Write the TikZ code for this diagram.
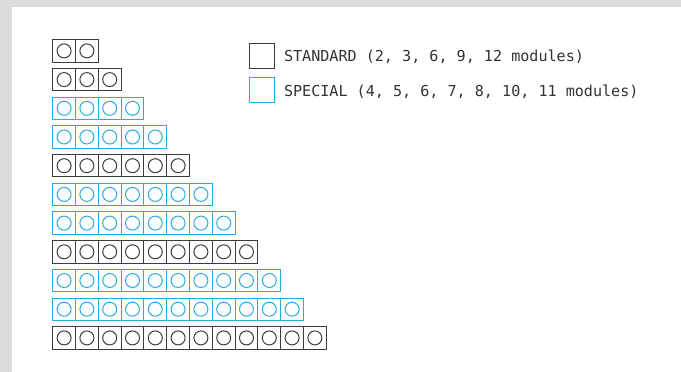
\documentclass[tikz,border=0pt]{standalone}
\usepackage{fontspec}
\setmonofont{DejaVu Sans Mono}
\usetikzlibrary{positioning}

\definecolor{stdgray}{HTML}{3C3C3C}
\definecolor{specblue}{HTML}{29ABE2}
\definecolor{framegray}{HTML}{DCDCDC}
\definecolor{textgray}{HTML}{333333}

\begin{document}
\begin{tikzpicture}[
    x=1pt, y=-1pt,
    module/.style={draw, line width=1pt, minimum width=22.8pt, minimum height=22.4pt, inner sep=0pt, outer sep=0pt},
    stud/.style={circle, draw, line width=1pt, minimum size=14pt, inner sep=0pt},
    legendbox/.style={draw, line width=1pt, minimum size=25pt, inner sep=0pt},
    legendtext/.style={font=\ttfamily\fontsize{15.1}{18}\selectfont, text=textgray, inner sep=0pt}
]

% Frame
\fill[framegray] (0,0) rectangle (681,372);
\fill[white] (12,7) rectangle (681,372);
\useasboundingbox (0,0) rectangle (681,372);

% ============ ROWS OF MODULES ============
\foreach \n/\col [count=\r] in {2/stdgray, 3/stdgray, 4/specblue, 5/specblue, 6/stdgray, 7/specblue, 8/specblue, 9/stdgray, 10/specblue, 11/specblue, 12/stdgray} {
    \pgfmathsetmacro{\ypos}{39.7 + (\r-1)*28.7 + 11.2}
    \foreach \i in {1,...,\n} {
        \pgfmathsetmacro{\xpos}{52.7 + (\i-0.5)*22.8}
        \node[module, draw=\col] (m\r-\i) at (\xpos, \ypos) {};
        \node[stud, draw=\col] (s\r-\i) at (m\r-\i.center) {};
    }
}

% ============ LEGEND ============
\node[legendbox, draw=stdgray] (stdkey) at (261.8, 55.5) {};
\node[legendbox, draw=specblue] (speckey) at (261.8, 90.2) {};

\node[legendtext, right=9pt of stdkey, yshift=-1.5pt] (stdtext) {STANDARD (2, 3, 6, 9, 12 modules)};
\node[legendtext, right=9pt of speckey, yshift=-1.5pt] (spectext) {SPECIAL (4, 5, 6, 7, 8, 10, 11 modules)};

\end{tikzpicture}
\end{document}
